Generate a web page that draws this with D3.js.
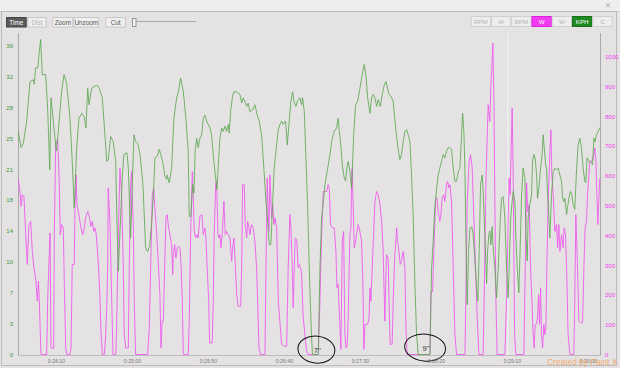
<!DOCTYPE html>
<html>
<head>
<meta charset="utf-8">
<script src="https://cdn.jsdelivr.net/npm/d3@7"></script>
<style>
body{margin:0;background:#e4e2e2;}
svg{display:block;font-family:"Liberation Sans",Arial,sans-serif;}
</style>
</head>
<body>
<svg id="chart" width="620" height="368"></svg>
<script>
// speed (KPH) samples: [seconds, kph]
var kph = [[1425.2,26.0],[1427.0,24.1],[1428.5,24.6],[1430.7,27.2],[1432.9,31.8],[1435.1,32.0],[1435.7,31.5],[1436.6,33.4],[1438.0,33.4],[1438.8,34.9],[1439.9,36.7],[1441.0,32.6],[1443.2,32.6],[1444.5,28.7],[1445.9,21.5],[1446.7,29.9],[1448.9,26.0],[1450.2,23.7],[1451.5,26.0],[1453.7,30.6],[1455.3,32.6],[1457.0,31.6],[1459.2,27.5],[1460.7,22.5],[1462.0,17.1],[1463.6,24.1],[1465.1,27.5],[1466.9,28.1],[1468.6,27.7],[1469.7,26.4],[1470.9,31.0],[1471.7,29.1],[1473.5,31.0],[1476.8,31.4],[1478.5,31.0],[1480.5,29.9],[1482.2,25.6],[1483.4,22.5],[1484.4,22.7],[1486.0,25.4],[1487.7,24.8],[1489.3,22.5],[1490.1,15.5],[1491.0,9.7],[1492.8,17.1],[1493.6,20.6],[1494.7,23.3],[1496.7,23.5],[1497.6,21.7],[1499.1,13.6],[1500.2,19.8],[1501.3,25.6],[1502.4,24.8],[1503.8,24.6],[1505.3,23.3],[1507.2,19.8],[1509.0,12.4],[1510.3,12.0],[1511.6,12.6],[1513.0,15.5],[1514.3,19.4],[1515.1,22.9],[1516.6,23.1],[1518.0,23.9],[1520.2,22.5],[1521.7,20.8],[1522.8,20.4],[1523.2,20.9],[1524.5,20.0],[1526.1,21.7],[1527.6,27.5],[1529.4,29.9],[1530.5,30.6],[1532.0,32.2],[1533.8,30.6],[1535.5,27.5],[1537.0,23.7],[1537.7,16.1],[1538.8,16.1],[1539.9,19.8],[1540.8,18.8],[1541.6,23.7],[1542.6,25.2],[1543.6,24.1],[1544.7,25.2],[1545.9,25.6],[1546.9,27.5],[1548.0,27.9],[1549.1,27.2],[1551.3,26.4],[1552.4,25.6],[1553.9,22.5],[1555.3,20.2],[1555.9,19.2],[1556.8,22.1],[1557.9,25.2],[1559.0,26.4],[1560.1,26.0],[1561.2,26.6],[1562.3,26.0],[1563.4,26.8],[1564.0,25.8],[1564.9,28.3],[1566.2,30.1],[1567.1,30.6],[1568.9,30.6],[1571.1,30.3],[1572.2,29.3],[1573.2,29.9],[1574.3,29.5],[1575.5,28.9],[1576.5,29.3],[1577.6,28.3],[1579.4,28.5],[1580.9,29.1],[1582.4,27.9],[1583.7,27.2],[1585.3,25.6],[1586.8,21.7],[1588.2,17.8],[1589.3,15.5],[1590.3,12.8],[1591.4,12.8],[1592.6,17.8],[1593.6,21.7],[1595.2,24.4],[1596.3,26.2],[1597.4,26.8],[1598.5,27.2],[1599.5,26.8],[1601.1,27.2],[1602.2,24.4],[1603.3,26.8],[1604.6,29.5],[1605.7,30.6],[1606.6,29.5],[1607.9,28.9],[1608.8,29.5],[1610.5,29.9],[1611.6,29.1],[1612.3,29.9],[1613.4,28.3],[1615.5,17.8],[1617.0,8.0],[1618.2,2.0],[1618.8,0],[1622.6,0],[1623.7,10.1],[1624.8,15.9],[1625.9,17.8],[1627.0,19.8],[1628.8,21.7],[1630.3,23.3],[1631.4,24.8],[1633.1,26.0],[1634.7,26.4],[1635.7,27.5],[1636.4,26.0],[1637.3,24.8],[1638.4,22.1],[1639.7,20.6],[1640.6,20.2],[1641.4,21.7],[1642.3,22.5],[1643.4,21.3],[1644.5,19.4],[1644.9,20.9],[1645.9,25.6],[1647.2,29.1],[1648.5,29.5],[1650.0,31.0],[1651.5,32.6],[1652.8,33.8],[1653.9,32.6],[1655.1,29.9],[1656.6,28.1],[1657.7,29.9],[1658.7,30.3],[1659.9,29.9],[1661.0,28.9],[1662.0,29.7],[1663.4,28.9],[1664.7,30.3],[1666.0,31.4],[1667.1,31.8],[1668.2,31.0],[1669.1,30.3],[1670.4,30.1],[1671.9,29.5],[1673.5,26.4],[1674.8,24.4],[1676.3,22.7],[1677.4,23.3],[1678.5,24.8],[1679.6,26.0],[1680.7,26.2],[1681.8,25.6],[1682.9,24.8],[1684.0,20.9],[1685.1,15.9],[1686.2,8.1],[1687.3,2.3],[1688.4,0],[1696.1,0],[1697.2,10.1],[1698.2,13.2],[1699.3,17.1],[1700.5,19.4],[1701.5,20.9],[1702.6,21.7],[1703.8,22.5],[1704.8,23.3],[1705.9,22.9],[1707.0,23.7],[1708.1,24.1],[1709.2,24.1],[1710.3,23.9],[1711.4,21.7],[1712.5,20.2],[1713.6,20.2],[1714.7,21.3],[1715.8,21.7],[1716.9,25.6],[1717.6,28.1],[1718.4,26.0],[1719.1,21.7],[1719.7,14.0],[1720.6,5.8],[1721.5,12.0],[1722.4,14.7],[1723.5,14.9],[1724.5,14.0],[1725.7,10.9],[1726.8,7.8],[1727.6,6.2],[1728.5,12.0],[1729.4,19.8],[1730.5,20.9],[1731.1,19.0],[1732.2,14.0],[1733.4,8.3],[1734.0,12.0],[1734.9,14.0],[1735.5,14.4],[1736.2,12.8],[1737.0,14.9],[1737.7,12.4],[1738.8,10.1],[1739.9,6.6],[1741.0,10.1],[1742.1,14.7],[1743.2,18.2],[1744.3,18.4],[1745.4,15.9],[1746.5,10.1],[1747.6,6.6],[1748.2,10.1],[1749.1,15.5],[1749.8,17.1],[1750.9,19.0],[1752.0,17.8],[1752.6,14.0],[1753.5,10.1],[1754.6,7.2],[1755.7,14.0],[1756.4,18.6],[1757.4,21.7],[1758.6,20.6],[1759.2,14.0],[1760.1,10.9],[1760.7,15.9],[1761.8,17.5],[1763.0,18.6],[1763.6,22.5],[1764.5,23.3],[1765.3,22.9],[1766.3,20.9],[1766.9,18.2],[1767.8,19.4],[1768.9,21.7],[1769.9,23.3],[1770.6,25.6],[1771.3,24.1],[1772.2,22.1],[1772.8,21.7],[1773.5,18.6],[1774.4,15.9],[1775.0,13.6],[1776.1,18.6],[1777.2,21.3],[1778.3,21.7],[1779.4,21.5],[1780.5,21.7],[1781.6,20.9],[1782.7,20.2],[1783.4,18.2],[1784.2,17.8],[1784.9,18.2],[1786.0,16.3],[1786.6,17.1],[1787.5,18.2],[1788.6,19.0],[1789.5,18.6],[1790.3,17.5],[1791.4,16.9],[1792.6,21.7],[1793.6,24.4],[1794.7,25.2],[1795.8,24.1],[1796.9,21.7],[1798.0,20.2],[1798.7,20.0],[1799.5,22.9],[1800.9,22.5],[1801.8,22.5],[1803.1,22.1],[1804.0,25.2],[1804.8,24.8],[1805.7,25.6],[1806.8,26.0],[1807.9,26.4]];

// power (W) samples: [seconds, watts]
var watts = [[1425.2,587],[1426.3,547],[1427.0,497],[1427.8,536],[1428.9,531],[1430.1,402],[1431.1,302],[1432.2,436],[1433.4,447],[1434.4,346],[1435.5,291],[1436.6,257],[1437.7,179],[1438.4,246],[1438.8,212],[1439.5,101],[1440.1,0],[1443.9,0],[1444.5,179],[1445.4,313],[1446.1,408],[1446.7,22],[1448.5,20],[1448.9,402],[1449.8,704],[1451.1,721],[1452.0,603],[1452.8,402],[1453.7,436],[1454.8,425],[1455.5,235],[1456.4,22],[1457.0,0],[1459.2,0],[1459.9,22],[1460.7,302],[1462.0,302],[1462.5,492],[1463.2,603],[1463.8,503],[1465.1,469],[1466.4,425],[1467.6,402],[1468.6,425],[1469.5,458],[1470.9,480],[1471.9,464],[1473.0,430],[1473.9,447],[1474.8,413],[1475.7,425],[1476.5,402],[1477.8,313],[1478.9,201],[1479.6,78],[1480.5,0],[1481.8,0],[1482.7,67],[1483.4,157],[1484.0,291],[1484.4,559],[1485.5,447],[1486.6,201],[1487.5,0],[1489.3,0],[1489.9,89],[1490.6,291],[1491.4,480],[1492.1,626],[1493.2,536],[1494.3,291],[1494.9,67],[1495.9,22],[1497.6,22],[1498.2,291],[1499.1,570],[1499.8,614],[1500.9,425],[1501.5,179],[1502.4,0],[1510.3,0],[1511.4,89],[1512.3,291],[1513.4,536],[1514.3,559],[1515.1,492],[1516.3,402],[1517.3,313],[1518.4,201],[1519.1,22],[1519.9,112],[1520.6,112],[1521.5,291],[1522.4,464],[1523.2,469],[1524.1,425],[1525.0,402],[1526.1,369],[1526.8,268],[1527.2,335],[1528.1,369],[1528.9,324],[1529.8,358],[1530.7,363],[1531.6,358],[1532.4,291],[1533.1,179],[1533.8,0],[1537.0,0],[1537.7,112],[1538.6,402],[1539.7,614],[1540.3,536],[1541.0,413],[1541.9,391],[1542.8,402],[1543.6,391],[1544.7,464],[1546.1,469],[1546.9,402],[1548.0,425],[1548.7,385],[1549.5,291],[1550.5,179],[1551.1,39],[1552.8,39],[1553.5,179],[1554.1,402],[1555.1,570],[1555.7,581],[1556.6,402],[1557.2,391],[1557.9,402],[1558.5,358],[1559.4,402],[1560.5,514],[1561.4,402],[1562.3,413],[1563.4,402],[1564.5,391],[1565.6,313],[1566.2,358],[1567.1,391],[1568.0,302],[1568.9,201],[1569.9,162],[1571.5,162],[1572.2,291],[1572.8,570],[1573.9,570],[1574.5,436],[1575.5,391],[1576.1,447],[1577.0,425],[1577.6,402],[1578.7,436],[1579.8,425],[1580.9,380],[1582.0,291],[1582.7,179],[1583.6,22],[1584.7,0],[1587.5,0],[1588.2,291],[1589.0,592],[1590.1,413],[1590.8,603],[1591.9,458],[1592.6,503],[1593.4,436],[1594.1,458],[1595.2,425],[1596.3,179],[1598.5,34],[1600.0,28],[1601.8,28],[1602.8,291],[1603.9,469],[1604.6,425],[1605.5,291],[1606.1,157],[1606.8,291],[1607.4,391],[1608.4,385],[1609.4,291],[1610.1,302],[1611.0,291],[1611.6,268],[1612.7,123],[1613.8,67],[1614.9,11],[1616.0,0],[1622.6,0],[1623.7,179],[1624.8,402],[1625.9,547],[1628.1,547],[1629.1,570],[1629.8,559],[1630.7,436],[1631.8,425],[1633.1,425],[1634.2,346],[1634.9,224],[1635.7,235],[1636.6,123],[1637.5,17],[1638.4,380],[1639.3,413],[1640.1,67],[1640.8,22],[1641.6,28],[1642.3,123],[1643.4,402],[1644.1,425],[1644.5,570],[1644.9,626],[1645.6,492],[1646.3,358],[1647.2,380],[1647.8,402],[1648.9,436],[1650.0,413],[1651.1,380],[1652.0,235],[1652.6,17],[1653.3,101],[1655.1,101],[1656.0,123],[1656.6,224],[1657.2,179],[1658.1,291],[1659.0,402],[1659.9,514],[1661.0,547],[1662.0,536],[1663.2,503],[1664.3,447],[1665.3,346],[1666.0,201],[1666.4,112],[1667.5,335],[1668.6,324],[1669.2,179],[1669.9,34],[1671.2,34],[1671.9,179],[1673.0,335],[1674.2,425],[1674.8,380],[1675.7,346],[1676.5,302],[1677.4,313],[1678.5,346],[1679.6,291],[1680.3,89],[1681.1,0],[1696.1,0],[1696.7,212],[1697.8,212],[1698.7,346],[1699.3,447],[1700.0,525],[1700.7,525],[1701.5,480],[1702.6,447],[1703.3,469],[1704.1,525],[1705.1,536],[1705.9,514],[1707.0,570],[1707.7,581],[1708.6,559],[1709.2,570],[1710.3,514],[1711.4,291],[1712.5,67],[1713.6,0],[1719.1,0],[1719.7,179],[1720.6,514],[1721.9,648],[1722.8,670],[1723.9,626],[1725.0,458],[1726.1,291],[1727.2,123],[1728.3,0],[1731.1,0],[1732.1,291],[1732.9,570],[1733.8,737],[1734.4,838],[1735.5,782],[1736.2,905],[1736.8,961],[1737.5,1045],[1738.2,849],[1738.8,514],[1739.5,179],[1740.3,0],[1745.4,0],[1746.5,179],[1747.6,458],[1748.2,592],[1748.9,536],[1749.5,681],[1750.2,827],[1750.9,592],[1751.8,67],[1752.6,0],[1757.9,0],[1758.8,291],[1759.7,576],[1760.5,480],[1761.4,503],[1762.3,291],[1763.4,157],[1764.0,67],[1764.7,22],[1765.3,101],[1766.0,101],[1766.9,123],[1767.6,201],[1768.2,101],[1768.9,224],[1769.5,67],[1770.2,22],[1771.1,101],[1771.7,67],[1772.4,89],[1773.0,291],[1773.9,514],[1775.0,681],[1775.7,754],[1776.3,603],[1777.2,536],[1778.3,413],[1779.4,436],[1780.1,358],[1780.9,436],[1781.6,346],[1782.7,402],[1783.7,358],[1784.4,425],[1785.3,402],[1786.0,291],[1787.0,67],[1788.2,0],[1790.8,0],[1791.4,179],[1792.1,469],[1793.2,291],[1794.1,112],[1795.2,106],[1796.5,106],[1797.4,291],[1798.2,425],[1799.1,447],[1799.8,536],[1800.7,603],[1801.3,648],[1802.4,648],[1803.5,659],[1804.6,693],[1805.3,648],[1805.9,547],[1806.6,436],[1807.2,514],[1807.9,592]];

var timeDomain = [1425, 1808];
var timeTicks = [1450, 1500, 1550, 1600, 1650, 1700, 1750, 1800];
var kphTicks = [0, 3.6, 7.2, 10.8, 14.4, 18, 21.6, 25.2, 28.8, 32.4, 36];
var wattTicks = [0, 100, 200, 300, 400, 500, 600, 700, 800, 900, 1000];
var cursorTime = 1747.4;
// stops marked by hand: [start, end, label]
var stops = [[1618.8, 1622.6, "7''"], [1688.4, 1696.1, "9''"]];

var leftButtons = ["Time", "Dist", "Zoom", "Unzoom", "Cut"];
var rightButtons = ["RPM", "M", "BPM", "W", "W", "KPH", "C"];

var svg = d3.select("#chart");

// frame
svg.append("rect").attr("width", 620).attr("height", 368).attr("fill", "#e4e2e2");
svg.append("rect").attr("width", 620).attr("height", 11).attr("fill", "#efeeee");
svg.append("line").attr("x1", 0).attr("x2", 620).attr("y1", 11.5).attr("y2", 11.5).attr("stroke", "#cfcfcf");
svg.append("rect").attr("x", 1.5).attr("y", 11.5).attr("width", 615).attr("height", 354)
	.attr("fill", "none").attr("stroke", "#bcbcbc");
svg.append("text").attr("x", 608).attr("y", 9).attr("text-anchor", "middle")
	.attr("font-size", 10).attr("fill", "#b0b0b0").text("\u00d7");

// toolbar buttons (left)
var lb = [{x:6,w:20.7},{x:27.3,w:19.4},{x:52.3,w:21},{x:73.3,w:26},{x:105.3,w:20.7}];
var lbg = svg.append("g").attr("id", "left_buttons");
leftButtons.forEach(function(name, i){
	var b = lb[i];
	var on = (i == 0);
	lbg.append("rect").attr("x", b.x + 0.5).attr("y", 17.5).attr("width", b.w - 1).attr("height", 9.5)
		.attr("fill", on ? "#5b5b5b" : "#efefef").attr("stroke", on ? "#444" : "#c8c8c8");
	lbg.append("text").attr("x", b.x + b.w/2).attr("y", 24.6).attr("text-anchor", "middle")
		.attr("font-size", 6.4).attr("fill", on ? "#fff" : (i == 1 ? "#b8b8b8" : "#555")).text(name);
});
// slider
svg.append("line").attr("x1", 136).attr("x2", 196).attr("y1", 21.5).attr("y2", 21.5).attr("stroke", "#aaa");
svg.append("rect").attr("x", 132.5).attr("y", 18.5).attr("width", 3.5).attr("height", 8)
	.attr("fill", "#f4f4f4").attr("stroke", "#999");

// toolbar buttons (right)
var rbg = svg.append("g").attr("id", "right_buttons");
rightButtons.forEach(function(name, i){
	var x0 = 470.7 + i*20.25;
	var fill = "#ededed", col = "#b5b5b5", stroke = "#cfcfcf";
	if (i == 3){ fill = "#f03cf0"; col = "#fff"; stroke = "#e020e0"; }
	if (i == 5){ fill = "#1f8a1f"; col = "#fff"; stroke = "#177017"; }
	rbg.append("rect").attr("x", x0 + 0.5).attr("y", 16.5).attr("width", 19.5).attr("height", 10)
		.attr("fill", fill).attr("stroke", stroke);
	rbg.append("text").attr("x", x0 + 10.2).attr("y", 24).attr("text-anchor", "middle")
		.attr("font-size", 6.2).attr("fill", col).text(name);
});

// scales
var xScale = d3.scaleLinear().domain(timeDomain).range([18, 600]);
var yKph = d3.scaleLinear().domain([0, 36]).range([354.5, 45.5]);
var yW = d3.scaleLinear().domain([0, 1000]).range([354.5, 56.5]);

function fmtTime(t){
	var h = Math.floor(t/3600), m = Math.floor(t%3600/60), s = Math.round(t%60);
	return h + ":" + (m < 10 ? "0" : "") + m + ":" + (s < 10 ? "0" : "") + s;
}

// axis lines
var axes = svg.append("g").attr("id", "axes").attr("stroke", "#a9a9a9");
axes.append("line").attr("x1", 18.5).attr("x2", 18.5).attr("y1", 33).attr("y2", 355);
axes.append("line").attr("x1", 600.5).attr("x2", 600.5).attr("y1", 33).attr("y2", 355);
axes.append("line").attr("x1", 18).attr("x2", 601).attr("y1", 355.5).attr("y2", 355.5).attr("stroke", "#bdbdbd");

// cursor line
svg.append("line").attr("x1", xScale(cursorTime)).attr("x2", xScale(cursorTime))
	.attr("y1", 33).attr("y2", 355).attr("stroke", "#f6f6f6").attr("stroke-width", 1);

// left axis (KPH)
var leftAxis = d3.axisLeft(yKph).tickValues(kphTicks).tickSize(0).tickPadding(5)
	.tickFormat(function(d){ return Math.floor(d + 1e-9); });
svg.append("g").attr("transform", "translate(18,0)").call(leftAxis)
	.call(function(g){ g.select(".domain").remove(); })
	.selectAll("text").attr("font-size", 6).attr("fill", "#3f9a3f").attr("font-family", "Liberation Sans, Arial");

// right axis (W)
var rightAxis = d3.axisRight(yW).tickValues(wattTicks).tickSize(0).tickPadding(5).tickFormat(d3.format("d"));
svg.append("g").attr("transform", "translate(600,0)").call(rightAxis)
	.call(function(g){ g.select(".domain").remove(); })
	.selectAll("text").attr("font-size", 6).attr("fill", "#f040f0").attr("font-family", "Liberation Sans, Arial");

// bottom axis (time)
var bottomAxis = d3.axisBottom(xScale).tickValues(timeTicks).tickSize(0).tickPadding(4).tickFormat(fmtTime);
svg.append("g").attr("transform", "translate(0,355)").call(bottomAxis)
	.call(function(g){ g.select(".domain").remove(); })
	.selectAll("text").attr("font-size", 5.2).attr("fill", "#7a7a7a").attr("font-family", "Liberation Sans, Arial");

// series
var wLine = d3.line().x(function(d){ return xScale(d[0]); }).y(function(d){ return yW(d[1]); });
var kLine = d3.line().x(function(d){ return xScale(d[0]); }).y(function(d){ return yKph(d[1]); });

svg.append("path").attr("d", wLine(watts)).attr("fill", "none")
	.attr("stroke", "#ee5cee").attr("stroke-width", 1).attr("stroke-opacity", 0.9);
svg.append("path").attr("d", kLine(kph)).attr("fill", "none")
	.attr("stroke", "#5ea852").attr("stroke-width", 1).attr("stroke-opacity", 0.85);

// hand drawn marks round the stops
var marks = svg.append("g").attr("id", "stop_marks");
stops.forEach(function(s, i){
	var cx = xScale((s[0] + s[1]) / 2);
	var cy = yKph(0) - (i == 0 ? 5 : 7);
	marks.append("ellipse").attr("cx", cx + 1).attr("cy", cy)
		.attr("rx", i == 0 ? 18.5 : 20.5).attr("ry", 13.5)
		.attr("transform", "rotate(6," + cx + "," + cy + ")")
		.attr("fill", "none").attr("stroke", "#111").attr("stroke-width", 1);
	marks.append("text").attr("x", cx + 2).attr("y", cy + 3).attr("text-anchor", "middle")
		.attr("font-size", 7.5).attr("fill", "#333").text(s[2]);
});

// watermark
svg.append("text").attr("x", 547).attr("y", 365).attr("font-size", 8.4)
	.attr("fill", "#f2a35c").attr("fill-opacity", 0.9).text("Created by Paint X");
</script>
</body>
</html>
